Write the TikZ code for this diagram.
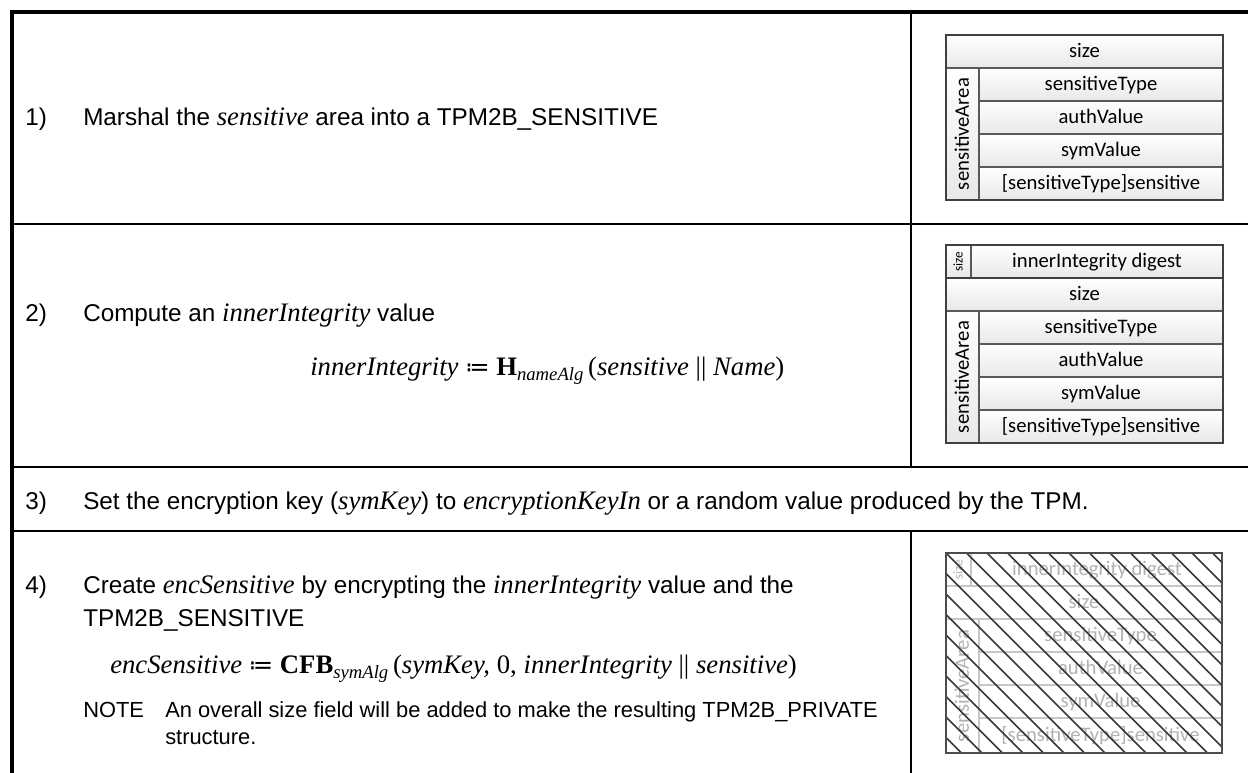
\documentclass[tikz,border=0pt]{standalone}
\usepackage{fontspec}
\setmainfont{Liberation Sans}
\newfontfamily\cmbf{Liberation Serif}[Scale=1.1]
\newfontfamily\calibf{Carlito}
\newfontfamily\dvf{DejaVu Sans}
\newcommand\mv[1]{{\cmbf\itshape #1}}
\newcommand\mup[1]{{\cmbf #1}}
\newcommand\mb[1]{{\cmbf\bfseries #1}}
\newcommand\msub[1]{\textsubscript{\cmbf\itshape #1}}
\newcommand\assign{{\dvf ≔}}
\begin{document}
\begin{tikzpicture}[x=0.75pt,y=-0.75pt,
  frameline/.style={line width=3pt,black},
  rowline/.style={line width=2.2pt,black},
  colline/.style={line width=1.5pt,black},
  txt/.style={anchor=base west,inner sep=0pt,font=\fontsize{18.2}{21}\selectfont},
  notetxt/.style={anchor=base west,inner sep=0pt,font=\fontsize{16.4}{19}\selectfont},
  fld/.style={inner sep=0pt,text height=9.6pt,text depth=0pt,font=\calibf\fontsize{15.5}{18}\selectfont},
  smallfld/.style={inner sep=0pt,text height=6.2pt,text depth=0pt,font=\calibf\fontsize{10}{12}\selectfont},
  cell/.style={draw=black!65,line width=0.8pt,top color=white,bottom color=black!9},
  outerbox/.style={draw=black!75,line width=1.6pt},
  faintcell/.style={draw=black!22,line width=0.8pt},
  fainttxt/.style={fld,text=black!30},
  hatchline/.style={draw=black!78,line width=1.1pt}]
\useasboundingbox (0,0) rectangle (1248,773);

% ---- table frame ----
\draw[frameline] (10,12) -- (1248,12);
\draw[frameline] (12,10) -- (12,773);
\draw[rowline] (12,224) -- (1248,224);
\draw[rowline] (12,467) -- (1248,467);
\draw[rowline] (12,531) -- (1248,531);
\draw[colline] (911,12) -- (911,467);
\draw[colline] (911,531) -- (911,773);

% ---- row 1 ----
\node[txt] (n1) at (25,126) {1)};
\node[txt] (t1) at (83,126) {Marshal the \mv{sensitive} area into a TPM2B\_SENSITIVE};

% box 1
\path[cell] (946,35) rectangle (1223,68);
\path[cell] (946,68) rectangle (979,200);
\path[cell] (979,68) rectangle (1223,101);
\path[cell] (979,101) rectangle (1223,134);
\path[cell] (979,134) rectangle (1223,167);
\path[cell] (979,167) rectangle (1223,200);
\draw[outerbox] (946,35) rectangle (1223,200);
\node[fld] (b1size) at (1084.5,51.5) {size};
\node[fld,rotate=90] (b1area) at (962.5,134) {sensitiveArea};
\node[fld] (b1type) at (1101,84.5) {sensitiveType};
\node[fld] (b1auth) at (1101,117.5) {authValue};
\node[fld] (b1sym) at (1101,150.5) {symValue};
\node[fld] (b1sens) at (1101,183.5) {[sensitiveType]sensitive};

% ---- row 2 ----
\node[txt] (n2) at (25,321) {2)};
\node[txt] (t2) at (83,321) {Compute an \mv{innerIntegrity} value};
\node[txt] (f2) at (310,375) {\mv{innerIntegrity} \assign{} \mb{H}\msub{nameAlg}\,\mup{(}\mv{sensitive} \mup{||} \mv{Name}\mup{)}};

% box 2
\path[cell] (946,245) rectangle (971,278);
\path[cell] (971,245) rectangle (1223,278);
\path[cell] (946,278) rectangle (1223,311);
\path[cell] (946,311) rectangle (979,443);
\path[cell] (979,311) rectangle (1223,344);
\path[cell] (979,344) rectangle (1223,377);
\path[cell] (979,377) rectangle (1223,410);
\path[cell] (979,410) rectangle (1223,443);
\draw[draw=black!75,line width=1.4pt] (946,278) -- (1223,278);
\draw[outerbox] (946,245) rectangle (1223,443);
\node[smallfld,rotate=90] (b2dsize) at (958.5,261.5) {size};
\node[fld] (b2dig) at (1097,261.5) {innerIntegrity digest};
\node[fld] (b2size) at (1084.5,294.5) {size};
\node[fld,rotate=90] (b2area) at (962.5,377) {sensitiveArea};
\node[fld] (b2type) at (1101,327.5) {sensitiveType};
\node[fld] (b2auth) at (1101,360.5) {authValue};
\node[fld] (b2sym) at (1101,393.5) {symValue};
\node[fld] (b2sens) at (1101,426.5) {[sensitiveType]sensitive};

% ---- row 3 ----
\node[txt] (n3) at (25,509) {3)};
\node[txt] (t3) at (83,509) {Set the encryption key (\mv{symKey}) to \mv{encryptionKeyIn} or a random value produced by the TPM.};

% ---- row 4 ----
\node[txt] (n4) at (25,593) {4)};
\node[txt] (t4a) at (83,593) {Create \mv{encSensitive} by encrypting the \mv{innerIntegrity} value and the};
\node[txt] (t4b) at (83,626) {TPM2B\_SENSITIVE};
\node[txt] (f4) at (110,673) {\mv{encSensitive} \assign{} \mb{CFB}\msub{symAlg}\,\mup{(}\mv{symKey,} \mup{0,} \mv{innerIntegrity} \mup{||} \mv{sensitive}\mup{)}};
\node[notetxt] (note) at (83,717) {NOTE};
\node[notetxt] (nt1) at (165,717) {An overall size field will be added to make the resulting TPM2B\_PRIVATE};
\node[notetxt] (nt2) at (165,744) {structure.};

% box 3 (encrypted, hatched)
\draw[faintcell] (946,553) rectangle (1222,753);
\draw[faintcell] (946,586) -- (1222,586);
\draw[faintcell] (946,619) -- (1222,619);
\draw[faintcell] (979,652) -- (1222,652);
\draw[faintcell] (979,685) -- (1222,685);
\draw[faintcell] (979,718) -- (1222,718);
\draw[faintcell] (971,553) -- (971,586);
\draw[faintcell] (979,619) -- (979,753);
\node[smallfld,text=black!30,rotate=90] (b3dsize) at (958.5,569.5) {size};
\node[fainttxt] (b3dig) at (1097,569.5) {innerIntegrity digest};
\node[fainttxt] (b3size) at (1084,602.5) {size};
\node[fainttxt,rotate=90] (b3area) at (962.5,686) {sensitiveArea};
\node[fainttxt] (b3type) at (1100.5,635.5) {sensitiveType};
\node[fainttxt] (b3auth) at (1100.5,668.5) {authValue};
\node[fainttxt] (b3sym) at (1100.5,701.5) {symValue};
\node[fainttxt] (b3sens) at (1100.5,735.5) {[sensitiveType]sensitive};
\begin{scope}
  \clip (946,553) rectangle (1222,753);
  \foreach \k in {-10,...,14} {
    \draw[hatchline] (946+20.5*\k,553) -- ++(300,300);
  }
\end{scope}
\draw[draw=black!70,line width=1.4pt] (946,553) rectangle (1222,753);
\end{tikzpicture}
\end{document}
